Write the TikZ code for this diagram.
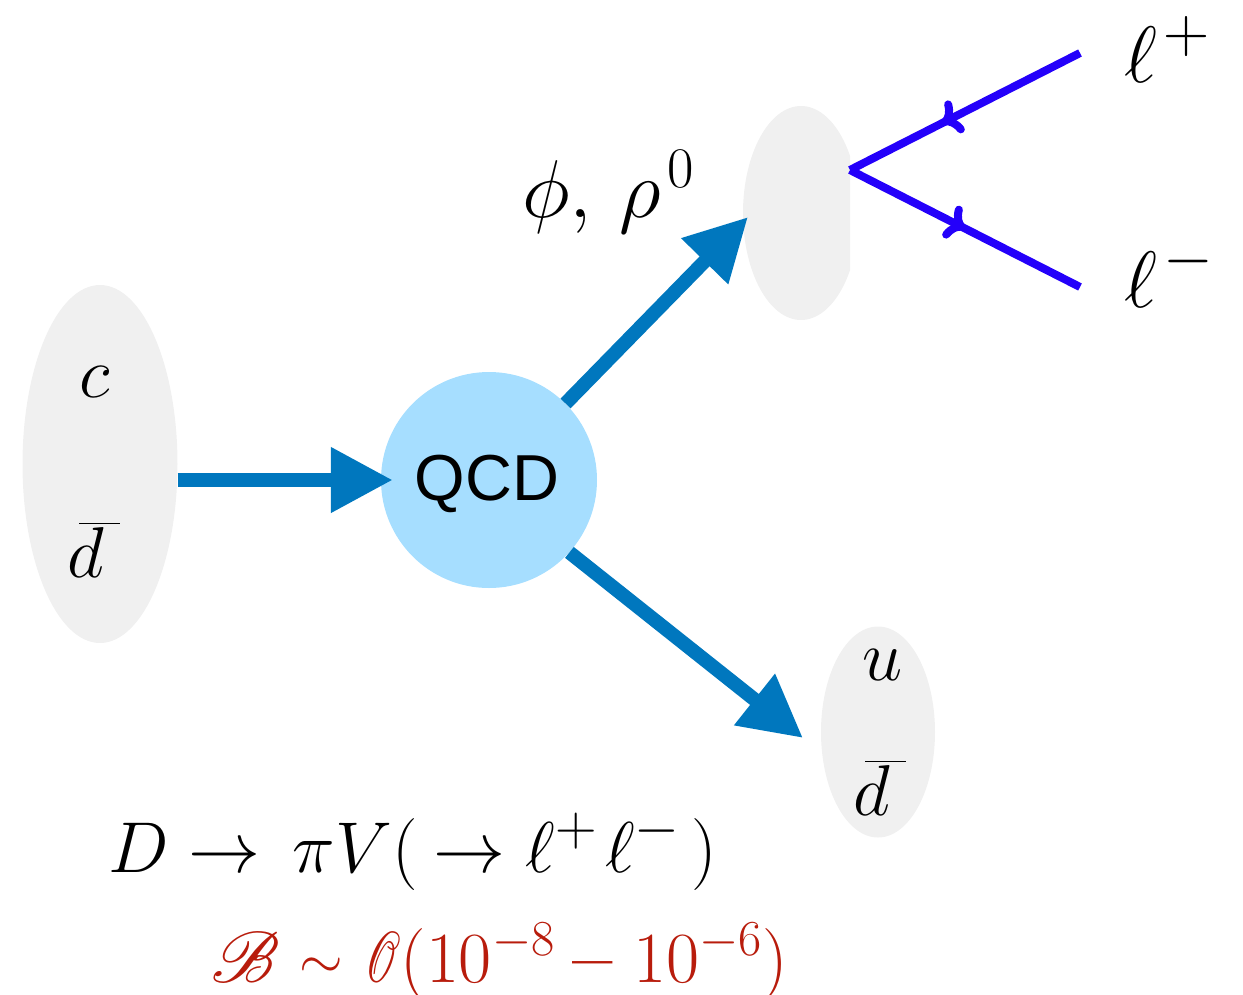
\RequirePackage{fix-cm}
\documentclass[tikz,border=0pt]{standalone}
\usepackage{amsmath}
\usepackage{graphicx}
\usepackage{mathrsfs}
\DeclareFontFamily{U}{rsfs}{\skewchar\font127 }
\DeclareFontShape{U}{rsfs}{m}{n}{<-> rsfs10}{}
\usepackage{fontspec}
\newfontfamily\arialfont{Liberation Sans}
\usetikzlibrary{shapes.geometric,arrows.meta,decorations.markings}
\definecolor{blobgray}{RGB}{240,240,240}
\definecolor{qcdblue}{RGB}{166,222,255}
\definecolor{arrowblue}{RGB}{0,119,190}
\definecolor{leptonblue}{RGB}{36,0,250}
\definecolor{brred}{RGB}{184,28,12}
\newcommand\BFsz{\fontsize{72}{86}\selectfont}
\newcommand\dbarq{\rlap{$d$}\mkern3mu\overline{\phantom{d}\mkern1mu}}
\newcommand\bigsup[1]{\scalebox{0.8}{$#1$}}
\tikzset{
  blob/.style={ellipse, fill=blobgray, draw=none, inner sep=0pt},
  bigarrow/.style={draw=arrowblue, line width=14pt, -{Triangle[length=62pt,width=62pt]}},
  lepton/.style={draw=leptonblue, line width=8pt, postaction={decorate}},
  lbl/.style={anchor=base, inner sep=0pt, font=\BFsz},
}
\begin{document}
\begin{tikzpicture}[x=1pt,y=-1pt]
\useasboundingbox (0,0) rectangle (1243,994);
% blobs
\node[blob, minimum width=155pt, minimum height=358pt] (cd) at (100,464) {};
\node[blob, minimum width=114pt, minimum height=211pt] (ud) at (878,732) {};
\begin{scope}
  \clip (730,90) rectangle (850,330);
  \fill[blobgray] (801,213) ellipse [x radius=58, y radius=107];
\end{scope}
\coordinate (V) at (801,213);
% QCD circle
\node[circle, fill=qcdblue, minimum size=216pt, inner sep=0pt] (qcd) at (489,480) {};
\node[anchor=center, inner sep=0pt, font=\arialfont\fontsize{65}{78}\selectfont] (qcdtxt) at (487,484) {QCD};
% arrows
\coordinate (tipV) at (748,217);
\coordinate (tipU) at (803,738);
\draw[bigarrow, shorten >=-12pt] (cd.east |- 0,480) -- (qcd.west);
\draw[bigarrow] (qcd.45) -- (tipV);
\draw[bigarrow] (qcd.-42) -- (tipU);
% leptons
\coordinate (vx) at (850,170);
\coordinate (lp) at (1080,53);
\coordinate (lm) at (1080,287);
\draw[lepton, decoration={markings, mark=at position 0.6 with {\arrow{To[length=18pt,width=36pt]}}}] (lp) -- (vx);
\draw[lepton, decoration={markings, mark=at position 0.5 with {\arrow{To[length=18pt,width=36pt]}}}] (vx) -- (lm);
% labels
\node[lbl] (c) at (95,397) {$c$};
\node[lbl, anchor=base west] (dbar1) at (67,577) {$\dbarq$};
\node[lbl] (u) at (883,680) {$u$};
\node[lbl, anchor=base west] (dbar2) at (853,815) {$\dbarq$};
\node[lbl, anchor=base west, font=\fontsize{82}{96}\selectfont] (phirho) at (522,217) {$\phi,\mkern3mu\rho^{\mkern2mu 0}$};
\node[lbl, anchor=base west, font=\fontsize{80}{96}\selectfont] (lplus) at (1124,82) {$\ell^{\mkern2mu\bigsup{+}}$};
\node[lbl, anchor=base west, font=\fontsize{80}{96}\selectfont] (lminus) at (1124,307) {$\ell^{\mkern2mu\bigsup{-}}$};
\node[lbl, anchor=base west] (proc) at (108,872) {$D\to\mkern3mu\pi V(\mkern4mu\to\ell^{\bigsup{+}}\mkern2mu\ell^{\bigsup{-}}\mkern3mu)$};
\node[lbl, anchor=base west, text=brred] (br) at (211,982) {$\mathscr{B}\kern20pt\raisebox{4pt}{\scalebox{0.78}{$\sim$}}\kern22pt\scalebox{0.6}[1]{$\mathscr{O}$}(10^{-8}\kern18pt\text{\bfseries --}\kern20pt10^{-6})$};
\end{tikzpicture}
\end{document}
